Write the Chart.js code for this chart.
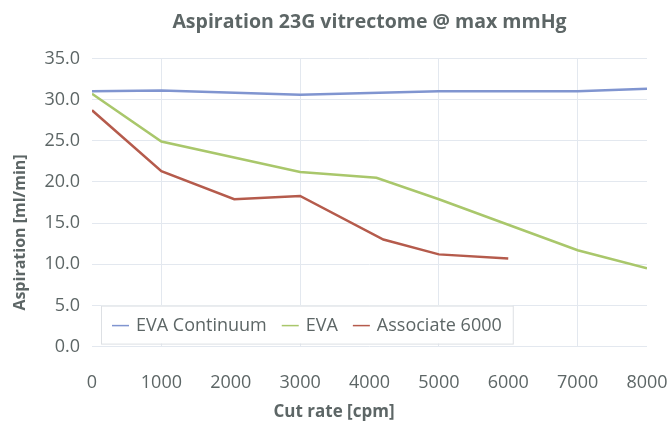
<!DOCTYPE html>
<html>
<head>
<meta charset="utf-8">
<script src="https://cdn.jsdelivr.net/npm/chart.js@4"></script>
<style>
    body { margin: 0; background: #fff; }
    #wrap { width: 668px; height: 422px; }
</style>
</head>
<body>
<div id="wrap"><canvas id="aspChart"></canvas></div>
<script>
// cut rate (cpm) and aspiration (ml/min)
const contX = [0, 1000, 3000, 5000, 7000, 8000];
const contY = [31.0, 31.1, 30.6, 31.0, 31.0, 31.3];

const evaX = [0, 1000, 3000, 4100, 5000, 6000, 7000, 8000];
const evaY = [30.7, 24.9, 21.2, 20.5, 17.9, 14.8, 11.7, 9.5];

const assocX = [0, 1000, 2050, 3000, 4200, 5000, 6000];
const assocY = [28.7, 21.3, 17.9, 18.3, 13.0, 11.2, 10.7];

const seriesNames = ['EVA Continuum', 'EVA', 'Associate 6000'];
const seriesColors = ['#8095d0', '#a9c76b', '#b55b4c'];

const yTitleText = 'Aspiration [ml/min]';

const textGray = '#5d6666';
const gridColor = '#e3e8ef';
const fontFam = '"Open Sans", sans-serif';

let toPoints = (xs, ys) => xs.map((x, i) => ({x: x, y: ys[i]}));

// legend box sitting inside the plot, bottom left
const boxLegend = {
    id: 'boxLegend',
    afterDraw(chart) {
        const ctx = chart.ctx;
        const area = chart.chartArea;
        const h = 38;
        const left = area.left + 9;
        const top = area.bottom - 3 - h;
        ctx.save();
        ctx.font = '18px ' + fontFam;
        let widths = seriesNames.map((n) => ctx.measureText(n).width);
        let lineLen = 17, gapA = 7, gapB = 15, pad = 11;
        let w = pad * 2 + widths.reduce((a, b) => a + b, 0) + seriesNames.length * (lineLen + gapA) + (seriesNames.length - 1) * gapB;
        ctx.fillStyle = '#fff';
        ctx.fillRect(left, top, w, h);
        ctx.strokeStyle = '#dde0e4';
        ctx.lineWidth = 1;
        ctx.strokeRect(left + 0.5, top + 0.5, w, h);
        let x = left + pad;
        let cy = top + h / 2 + 1;
        ctx.textBaseline = 'middle';
        seriesNames.forEach((name, i) => {
            ctx.strokeStyle = seriesColors[i];
            ctx.lineWidth = 1.5;
            ctx.beginPath();
            ctx.moveTo(x, cy);
            ctx.lineTo(x + lineLen, cy);
            ctx.stroke();
            x += lineLen + gapA;
            ctx.fillStyle = textGray;
            ctx.fillText(name, x, cy);
            x += widths[i] + gapB;
        });
        ctx.restore();
    }
};

// y axis title sits a bit below the middle of the plot in the original
const yTitle = {
    id: 'yTitle',
    afterDraw(chart) {
        const ctx = chart.ctx;
        const area = chart.chartArea;
        ctx.save();
        ctx.translate(20, (area.top + area.bottom) / 2 + 30);
        ctx.rotate(-Math.PI / 2);
        ctx.font = 'bold 16px ' + fontFam;
        ctx.fillStyle = textGray;
        ctx.textAlign = 'center';
        ctx.textBaseline = 'middle';
        ctx.fillText(yTitleText, 0, 0);
        ctx.restore();
    }
};

let aspChart = new Chart(document.getElementById('aspChart').getContext('2d'), {
    type: 'line',
    data: {
        datasets: [contX, evaX, assocX].map((xs, i) => ({
            label: seriesNames[i],
            data: toPoints(xs, [contY, evaY, assocY][i]),
            borderColor: seriesColors[i],
            backgroundColor: seriesColors[i],
            borderWidth: 2.5,
            pointRadius: 0,
            tension: 0,
            fill: false,
        }))
    },
    options: {
        responsive: true,
        maintainAspectRatio: false,
        animation: false,
        layout: {
            padding: 0
        },
        plugins: {
            legend: { display: false },
            tooltip: { enabled: false },
            title: {
                display: true,
                fullSize: false, // centre over the plot
                text: 'Aspiration 23G vitrectome @ max mmHg',
                color: textGray,
                font: { family: fontFam, size: 19.5, weight: 'bold' },
                padding: { top: 11, bottom: 24 },
            },
            // x axis title, centred on the whole canvas like the original
            subtitle: {
                display: true,
                position: 'bottom',
                text: 'Cut rate [cpm]',
                color: textGray,
                font: { family: fontFam, size: 17, weight: 'bold' },
                padding: { top: 0, bottom: 0 },
            },
        },
        scales: {
            x: {
                type: 'linear',
                min: 0,
                max: 8000,
                border: { display: false },
                grid: {
                    // only the odd thousands carry a line
                    color: (c) => (c.tick && c.tick.value % 2000 === 1000) ? gridColor : 'rgba(0,0,0,0)',
                    drawTicks: false,
                },
                ticks: {
                    stepSize: 1000,
                    color: textGray,
                    font: { family: fontFam, size: 18 },
                    padding: 25,
                    maxRotation: 0,
                    callback: (v) => String(v),
                },
                afterFit: (scale) => {
                    scale.height = 55;
                    // the tick padding should not push the plot in from the right
                    scale.paddingLeft = 0;
                    scale.paddingRight = 21;
                },
            },
            y: {
                min: 0,
                max: 35,
                border: { display: false },
                grid: {
                    color: gridColor,
                    drawTicks: false,
                },
                ticks: {
                    stepSize: 5,
                    color: textGray,
                    font: { family: fontFam, size: 18 },
                    padding: 12,
                    callback: (v) => v.toFixed(1),
                },
                afterFit: (scale) => { scale.width = 92; },
            }
        }
    },
    plugins: [boxLegend, yTitle],
});
</script>
</body>
</html>
